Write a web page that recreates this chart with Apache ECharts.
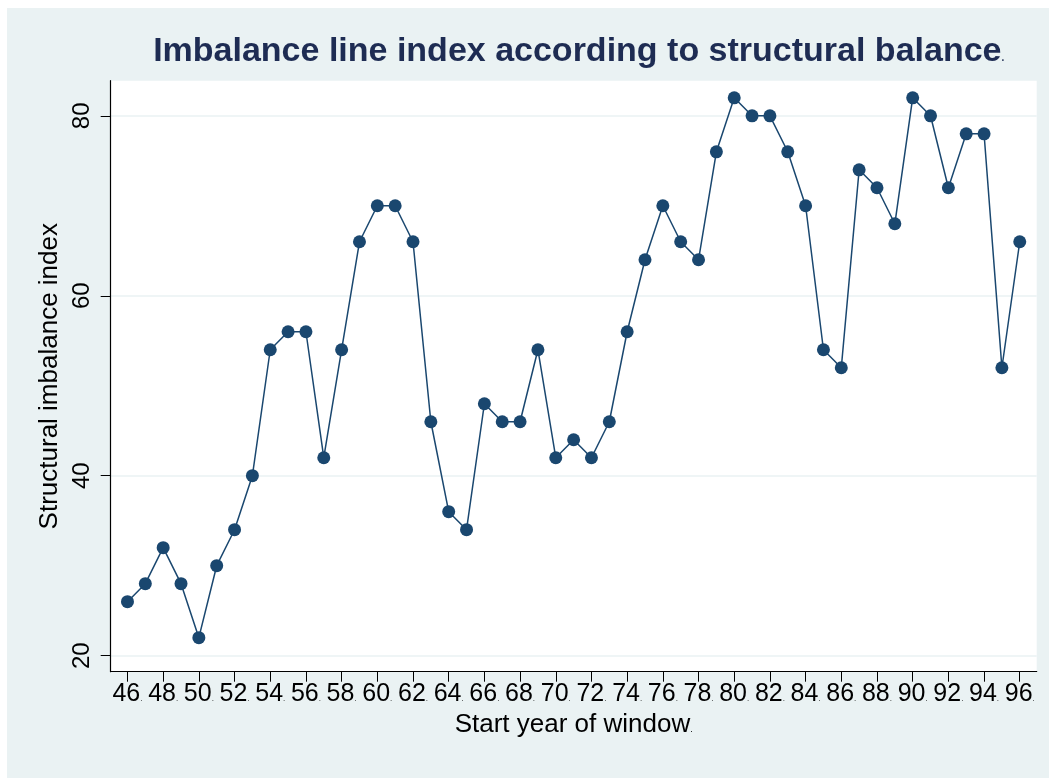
<!DOCTYPE html>
<html>
<head>
<meta charset="utf-8">
<script src="https://cdn.jsdelivr.net/npm/echarts@6/dist/echarts.min.js"></script>
<style>
html,body{margin:0;padding:0;background:#ffffff;}
#chart{position:absolute;left:7px;top:8px;width:1042px;height:770px;}
</style>
</head>
<body>
<div id="chart"></div>
<script>
// Data
const years = [46,47,48,49,50,51,52,53,54,55,56,57,58,59,60,61,62,63,64,65,66,67,68,69,70,71,72,73,74,75,76,77,78,79,80,81,82,83,84,85,86,87,88,89,90,91,92,93,94,95,96];
const imbalance = [26,28,32,28,22,30,34,40,54,56,56,42,54,66,70,70,66,46,36,34,48,46,46,54,42,44,42,46,56,64,70,66,64,76,82,80,80,76,70,54,52,74,72,68,82,80,72,78,78,52,66];
const xTicks = [46,48,50,52,54,56,58,60,62,64,66,68,70,72,74,76,78,80,82,84,86,88,90,92,94,96];
const yTicks = [20,40,60,80];
const titleText = 'Imbalance line index according to structural balance';
const xName = 'Start year of window';
const yName = 'Structural imbalance index';

const chart = echarts.init(document.getElementById('chart'));
const font = 'Liberation Sans, Arial, Helvetica, sans-serif';
const navy = '#1A476F';
chart.setOption({
  backgroundColor: '#EAF2F3',
  animation: false,
  title: {
    text: titleText + '{d|.}',
    left: 566.7,
    textAlign: 'center',
    top: 22,
    textStyle: {
      fontFamily: font, fontSize: 34, fontWeight: 'bold', color: '#1E2C53',
      rich: { d: { fontSize: 10, fontFamily: font, color: '#1E2C53', verticalAlign: 'bottom', padding:[0,0,6,0] } }
    }
  },
  grid: {
    left: 103.7, right: 12.3, top: 72.7, bottom: 106.3,
    show: true, backgroundColor: '#ffffff', borderWidth: 0
  },
  xAxis: {
    type: 'value',
    min: 45.06, max: 96.95,
    name: xName + '{d|.}',
    nameLocation: 'middle',
    nameGap: 39,
    nameTextStyle: {
      fontFamily: font, fontSize: 26, color: '#000',
      verticalAlign: 'top',
      rich: { d: { fontSize: 9, fontFamily: font, color: '#000', verticalAlign: 'bottom', padding:[0,0,4,0] } }
    },
    axisLine: { show: true, onZero: false, lineStyle: { color: '#000', width: 1.2 } },
    axisTick: { show: true, length: 10, inside: false, customValues: xTicks, lineStyle: { color: '#000', width: 1 } },
    axisLabel: {
      customValues: xTicks,
      margin: 10,
      formatter: function (v) { return '{n|' + v + '}{d|.}'; },
      rich: {
        n: { fontFamily: font, fontSize: 25, color: '#000' },
        d: { fontFamily: font, fontSize: 8, color: '#000', verticalAlign: 'bottom', padding:[0,0,4,0] }
      }
    },
    splitLine: { show: false }
  },
  yAxis: {
    type: 'value',
    min: 18.22, max: 83.9,
    name: yName,
    nameLocation: 'middle',
    nameGap: 47,
    nameTextStyle: { fontFamily: font, fontSize: 26, color: '#000' },
    axisLine: { show: true, onZero: false, lineStyle: { color: '#000', width: 1.2 } },
    axisTick: { show: true, length: 10, inside: false, customValues: yTicks, lineStyle: { color: '#000', width: 1 } },
    axisLabel: {
      customValues: yTicks,
      rotate: 90,
      margin: 16,
      fontFamily: font, fontSize: 24, color: '#000'
    },
    splitLine: { show: true, lineStyle: { color: '#EAF2F3', width: 1.5 } }
  },
  series: [{
    type: 'line',
    data: years.map((y, i) => [y, imbalance[i]]),
    symbol: 'circle',
    symbolSize: 13,
    lineStyle: { color: navy, width: 1.5 },
    itemStyle: { color: navy },
    clip: false
  }]
});
</script>
</body>
</html>
